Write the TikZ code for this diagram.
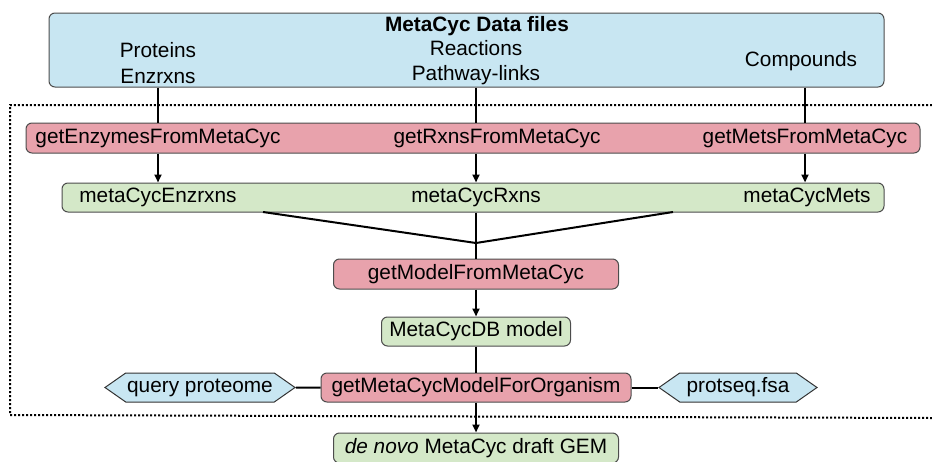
\documentclass[tikz,border=0pt]{standalone}
\usepackage{fontspec}
\setmainfont{Liberation Sans}
\usetikzlibrary{arrows.meta,shapes.symbols}
\definecolor{fileblue}{RGB}{200,230,242}
\definecolor{funcred}{RGB}{232,162,172}
\definecolor{vargreen}{RGB}{212,232,200}
\tikzset{
  >={Triangle[length=4pt,width=3.5pt]},
  box/.style={
    rectangle,
    rounded corners=3pt,
    draw=black!70, line width=0.5pt,
    inner sep=0pt},
  databox/.style={box, fill=fileblue},
  funcbox/.style={box, fill=funcred},
  varbox/.style={box, fill=vargreen},
  filebox/.style={
    signal, signal to=west and east,
    signal pointer angle=70,
    draw=black!80, line width=0.5pt,
    fill=fileblue,
    inner sep=0pt,
    minimum height=14.5pt},
  txt/.style={inner sep=0pt, align=center},
  line/.style={draw, line width=1pt},
  arrow/.style={line, ->},
  frame/.style={line width=1pt, dash pattern=on 1pt off 1pt},
}
\begin{document}
\begin{tikzpicture}[x=0.5pt, y=-0.5pt, font=\fontsize{10.4}{12.6}\selectfont]
  \useasboundingbox (0,0) rectangle (932,461);
  % dotted frame
  \draw[frame] (932,105) -- (10,105) -- (10,415) -- (932,418);
  % data files
  \node[databox, minimum width=417.5pt, minimum height=37pt] (data) at (466.5,50) {};
  \node[txt] (title) at (477,26) {\textbf{MetaCyc Data files}};
  \node[txt] (proteins) at (158,63) {Proteins\\Enzrxns};
  \node[txt] (reactions) at (476,63) {Reactions\\Pathway-links};
  \node[txt] (compounds) at (801,61) {Compounds};
  % functions row
  \node[funcbox, minimum width=447pt, minimum height=15pt] (rowget) at (473,138) {};
  \node[txt] (getenz) at (158,138) {getEnzymesFromMetaCyc};
  \node[txt] (getrxn) at (497,138) {getRxnsFromMetaCyc};
  \node[txt] (getmet) at (805,138) {getMetsFromMetaCyc};
  % variables row
  \node[varbox, minimum width=411pt, minimum height=14.5pt] (rowmeta) at (473,197.5) {};
  \node[txt] (metaenz) at (158,197.5) {metaCycEnzrxns};
  \node[txt] (metarxn) at (476,197.5) {metaCycRxns};
  \node[txt] (metamet) at (807,197.5) {metaCycMets};
  % model chain
  \node[funcbox, minimum width=142.5pt, minimum height=15pt] (getmodel) at (476,274) {getModelFromMetaCyc};
  \node[varbox, minimum width=94.5pt, minimum height=14.5pt] (dbmodel) at (476,331.5) {MetaCycDB model};
  \node[funcbox, minimum width=155pt, minimum height=14.5pt] (getorg) at (476,387.5) {getMetaCycModelForOrganism};
  \node[varbox, minimum width=142.5pt, minimum height=15pt] (draft) at (476,448) {{\itshape de novo} MetaCyc draft GEM};
  \node[filebox, minimum width=95pt] (query) at (200,387.5) {query proteome};
  \node[filebox, minimum width=79pt] (protseq) at (738,387.5) {protseq.fsa};
  % connectors
  \draw[line] (getenz |- data.south) -- (getenz |- rowget.north);
  \draw[line] (metarxn |- data.south) -- (metarxn |- rowget.north);
  \draw[line] (getmet |- data.south) -- (getmet |- rowget.north);
  \draw[arrow] (getenz |- rowget.south) -- (getenz |- rowmeta.north);
  \draw[arrow] (metarxn |- rowget.south) -- (metarxn |- rowmeta.north);
  \draw[arrow] (getmet |- rowget.south) -- (getmet |- rowmeta.north);
  \coordinate (enzout) at (263,212);
  \coordinate (metout) at (673,212);
  \coordinate (merge) at (476,243);
  \draw[line] (enzout) -- (merge) -- (metout);
  \draw[line] (metarxn |- rowmeta.south) -- (getmodel);
  \draw[arrow] (getmodel) -- (dbmodel);
  \draw[line] (dbmodel) -- (getorg);
  \draw[arrow] (getorg) -- (draft);
  \draw[line] (query) -- (getorg);
  \draw[line] (getorg) -- (protseq);
\end{tikzpicture}
\end{document}
